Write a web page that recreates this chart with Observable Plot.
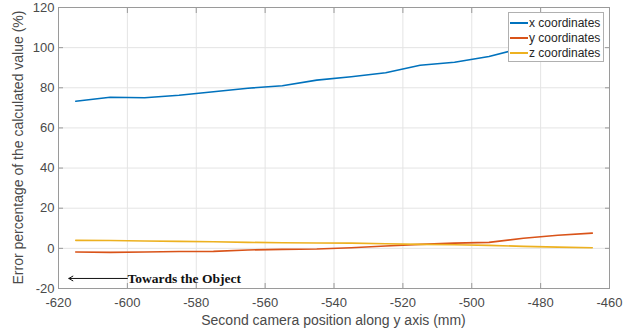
<!DOCTYPE html>
<html>
<head>
<meta charset="utf-8">
<script src="https://cdn.jsdelivr.net/npm/d3@7"></script>
<script src="https://cdn.jsdelivr.net/npm/@observablehq/plot@0.6"></script>
<style>
  html, body { margin: 0; padding: 0; background: #fff; }
  #wrap { position: relative; width: 639px; height: 335px; font-family: "Liberation Sans", Arial, sans-serif; }
  #legend { position: absolute; left: 508px; top: 12px; width: 96px; height: 50px; border: 1px solid #b0b0b0; background: #fff; box-sizing: border-box; padding-top: 2px; overflow: hidden; }
  .row { display: flex; align-items: center; height: 15.3px; font-size: 12px; color: #262626; white-space: nowrap; }
  .sw { flex: none; width: 18px; height: 0; border-top: 2px solid; margin-left: 1px; margin-right: 1px; }
</style>
</head>
<body>
<div id="wrap"></div>
<script>
const positions = [-615, -605, -595, -585, -575, -565, -555, -545, -535, -525, -515, -505, -495, -485, -475, -465];
const xErr = [73.3, 75.3, 75.0, 76.3, 78.0, 79.8, 81.0, 83.8, 85.5, 87.5, 91.2, 92.7, 95.6, 100.0, 104.0, 108.0];
const yErr = [-1.8, -2.0, -1.8, -1.6, -1.5, -0.8, -0.5, -0.3, 0.3, 1.2, 2.0, 2.6, 3.0, 5.0, 6.5, 7.6];
const zErr = [4.0, 3.9, 3.7, 3.5, 3.3, 3.0, 2.8, 2.7, 2.6, 2.3, 2.0, 1.8, 1.5, 1.0, 0.6, 0.3];
const seriesNames = ["x coordinates", "y coordinates", "z coordinates"];
const seriesColors = ["#0072BD", "#D95319", "#EDB120"];
const xTicks = [-620, -600, -580, -560, -540, -520, -500, -480, -460];
const yTicks = [-20, 0, 20, 40, 60, 80, 100, 120];
const annotation = [{x1: -600, x2: -617, y: -15, label: "Towards the Object"}];

const rows = [];
[xErr, yErr, zErr].forEach((arr, i) => arr.forEach((v, j) => rows.push({pos: positions[j], err: v, series: seriesNames[i]})));

const gray = "#9a9a9a";
const txt = "#4a4a4a";
const fmt = d => String(d);

const chart = Plot.plot({
  width: 639,
  height: 335,
  marginLeft: 58,
  marginRight: 30,
  marginTop: 7,
  marginBottom: 47,
  style: {fontFamily: "Liberation Sans, Arial, sans-serif", fontSize: "13px", background: "#fff", color: txt},
  x: {domain: [-620, -460], ticks: xTicks},
  y: {domain: [-20, 120], ticks: yTicks},
  color: {domain: seriesNames, range: seriesColors},
  marks: [
    Plot.gridX(xTicks, {stroke: "#e4e4e4", strokeOpacity: 1}),
    Plot.gridY(yTicks, {stroke: "#e4e4e4", strokeOpacity: 1}),
    Plot.frame({stroke: gray}),
    Plot.axisX(xTicks, {tickSize: 0, tickPadding: 9, fontSize: 13, fill: txt, label: null, tickFormat: fmt}),
    Plot.axisY(yTicks, {tickSize: 0, tickPadding: 4, fontSize: 13, fill: txt, label: null, tickFormat: fmt}),
    Plot.axisX(xTicks, {anchor: "bottom", tickSize: -5, text: null, stroke: gray, label: null}),
    Plot.axisX(xTicks, {anchor: "top", tickSize: -5, text: null, stroke: gray, label: null}),
    Plot.axisY(yTicks, {anchor: "left", tickSize: -5, text: null, stroke: gray, label: null}),
    Plot.axisY(yTicks, {anchor: "right", tickSize: -5, text: null, stroke: gray, label: null}),
    Plot.lineY(rows, {x: "pos", y: "err", z: "series", stroke: "series", strokeWidth: 1.6}),
    Plot.arrow(annotation, {x1: "x1", x2: "x2", y1: "y", y2: "y", stroke: "#111", strokeWidth: 1, headLength: 7, insetStart: 0, insetEnd: 0}),
    Plot.text(annotation, {x: "x1", y: "y", text: "label", textAnchor: "start", fontFamily: "Liberation Serif, Times New Roman, serif", fontWeight: "bold", fontSize: 13.5, fill: "#111", dx: 0})
  ]
});

const svg = d3.select(chart);
svg.append("text")
  .attr("x", 58 + (609 - 58) / 2).attr("y", 325)
  .attr("text-anchor", "middle")
  .attr("font-size", 14).attr("fill", txt)
  .text("Second camera position along y axis (mm)");
svg.append("text")
  .attr("transform", `translate(23, ${7 + (288 - 7) / 2}) rotate(-90)`)
  .attr("text-anchor", "middle")
  .attr("font-size", 14).attr("fill", txt)
  .text("Error percentage of the calculated value (%)");

const wrap = document.getElementById("wrap");
wrap.appendChild(chart);
const legend = document.createElement("div");
legend.id = "legend";
seriesNames.forEach((n, i) => {
  const r = document.createElement("div");
  r.className = "row";
  const s = document.createElement("span");
  s.className = "sw";
  s.style.borderColor = seriesColors[i];
  r.appendChild(s);
  const t = document.createElement("span");
  t.textContent = n;
  r.appendChild(t);
  legend.appendChild(r);
});
wrap.appendChild(legend);
</script>
</body>
</html>
